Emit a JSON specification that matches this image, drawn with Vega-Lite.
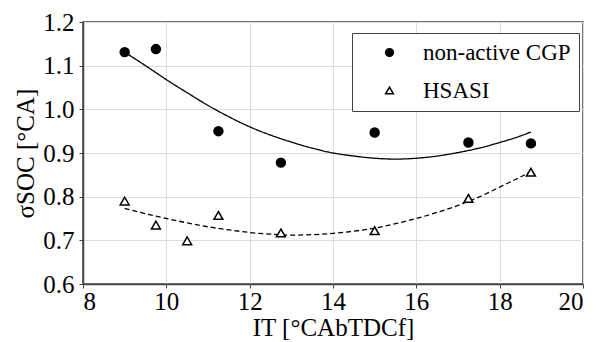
{
  "$schema": "https://vega.github.io/schema/vega-lite/v6.json",
  "autosize": "none",
  "width": 500,
  "height": 262,
  "padding": {"left": 83, "top": 22, "right": 14, "bottom": 58},
  "background": "white",
  "config": {
    "view": {"stroke": "#444", "strokeWidth": 1.5},
    "font": "Liberation Serif",
    "axis": {"labelFont": "Liberation Serif", "titleFont": "Liberation Serif", "labelFontSize": 25, "titleFontSize": 25, "titleFontWeight": "normal"},
    "legend": {"labelFont": "Liberation Serif", "labelFontSize": 23}
  },
  "datasets": {
    "pts": [
      {"it": 9.0, "sigma": 1.131, "series": "non-active CGP"},
      {"it": 9.75, "sigma": 1.138, "series": "non-active CGP"},
      {"it": 11.25, "sigma": 0.950, "series": "non-active CGP"},
      {"it": 12.75, "sigma": 0.878, "series": "non-active CGP"},
      {"it": 15.0, "sigma": 0.947, "series": "non-active CGP"},
      {"it": 17.25, "sigma": 0.924, "series": "non-active CGP"},
      {"it": 18.75, "sigma": 0.922, "series": "non-active CGP"},
      {"it": 9.0, "sigma": 0.790, "series": "HSASI"},
      {"it": 9.75, "sigma": 0.735, "series": "HSASI"},
      {"it": 10.5, "sigma": 0.699, "series": "HSASI"},
      {"it": 11.25, "sigma": 0.757, "series": "HSASI"},
      {"it": 12.75, "sigma": 0.717, "series": "HSASI"},
      {"it": 15.0, "sigma": 0.722, "series": "HSASI"},
      {"it": 17.25, "sigma": 0.796, "series": "HSASI"},
      {"it": 18.75, "sigma": 0.856, "series": "HSASI"}
    ],
    "fits": [
      {"it": 9.0, "sigma": 1.131, "fit": "CGP"},
      {"it": 9.5, "sigma": 1.100, "fit": "CGP"},
      {"it": 10.0, "sigma": 1.068, "fit": "CGP"},
      {"it": 10.5, "sigma": 1.038, "fit": "CGP"},
      {"it": 11.0, "sigma": 1.009, "fit": "CGP"},
      {"it": 11.5, "sigma": 0.983, "fit": "CGP"},
      {"it": 12.0, "sigma": 0.960, "fit": "CGP"},
      {"it": 12.5, "sigma": 0.941, "fit": "CGP"},
      {"it": 13.0, "sigma": 0.925, "fit": "CGP"},
      {"it": 13.5, "sigma": 0.911, "fit": "CGP"},
      {"it": 14.0, "sigma": 0.900, "fit": "CGP"},
      {"it": 14.5, "sigma": 0.893, "fit": "CGP"},
      {"it": 15.0, "sigma": 0.888, "fit": "CGP"},
      {"it": 15.5, "sigma": 0.886, "fit": "CGP"},
      {"it": 16.0, "sigma": 0.888, "fit": "CGP"},
      {"it": 16.5, "sigma": 0.893, "fit": "CGP"},
      {"it": 17.0, "sigma": 0.901, "fit": "CGP"},
      {"it": 17.5, "sigma": 0.911, "fit": "CGP"},
      {"it": 18.0, "sigma": 0.924, "fit": "CGP"},
      {"it": 18.5, "sigma": 0.939, "fit": "CGP"},
      {"it": 18.75, "sigma": 0.948, "fit": "CGP"},
      {"it": 9.0, "sigma": 0.773, "fit": "HSASI"},
      {"it": 9.5, "sigma": 0.761, "fit": "HSASI"},
      {"it": 10.0, "sigma": 0.750, "fit": "HSASI"},
      {"it": 10.5, "sigma": 0.740, "fit": "HSASI"},
      {"it": 11.0, "sigma": 0.731, "fit": "HSASI"},
      {"it": 11.5, "sigma": 0.724, "fit": "HSASI"},
      {"it": 12.0, "sigma": 0.718, "fit": "HSASI"},
      {"it": 12.5, "sigma": 0.714, "fit": "HSASI"},
      {"it": 13.0, "sigma": 0.712, "fit": "HSASI"},
      {"it": 13.5, "sigma": 0.713, "fit": "HSASI"},
      {"it": 14.0, "sigma": 0.716, "fit": "HSASI"},
      {"it": 14.5, "sigma": 0.721, "fit": "HSASI"},
      {"it": 15.0, "sigma": 0.728, "fit": "HSASI"},
      {"it": 15.5, "sigma": 0.738, "fit": "HSASI"},
      {"it": 16.0, "sigma": 0.750, "fit": "HSASI"},
      {"it": 16.5, "sigma": 0.764, "fit": "HSASI"},
      {"it": 17.0, "sigma": 0.780, "fit": "HSASI"},
      {"it": 17.5, "sigma": 0.799, "fit": "HSASI"},
      {"it": 18.0, "sigma": 0.822, "fit": "HSASI"},
      {"it": 18.5, "sigma": 0.845, "fit": "HSASI"},
      {"it": 18.75, "sigma": 0.857, "fit": "HSASI"}
    ]
  },
  "layer": [
    {
      "data": {"name": "fits"},
      "mark": {"type": "line", "color": "black", "strokeWidth": 1.3, "interpolate": "monotone"},
      "encoding": {
        "x": {
          "field": "it", "type": "quantitative",
          "scale": {"domain": [8, 20], "nice": false, "zero": false},
          "axis": {
            "title": "IT [°CAbTDCf]", "values": [8, 10, 12, 14, 16, 18, 20],
            "labelFont": "Liberation Serif", "labelFontSize": 25, "labelColor": "black", "labelPadding": 1,
            "titleFont": "Liberation Serif", "titleFontSize": 25, "titleFontWeight": "normal", "titleColor": "black", "titlePadding": 1,
            "domainColor": "#444", "domainWidth": 1.5, "tickColor": "#444", "tickSize": 4,
            "gridColor": "#dcdcdc", "gridWidth": 1
          }
        },
        "y": {
          "field": "sigma", "type": "quantitative",
          "scale": {"domain": [0.6, 1.2], "nice": false, "zero": false},
          "axis": {
            "title": "σSOC [°CA]", "values": [0.6, 0.7, 0.8, 0.9, 1.0, 1.1, 1.2], "format": ".1f",
            "labelFont": "Liberation Serif", "labelFontSize": 25, "labelColor": "black", "labelPadding": 5,
            "titleFont": "Liberation Serif", "titleFontSize": 25, "titleFontWeight": "normal", "titleColor": "black", "titlePadding": 4,
            "domainColor": "#444", "domainWidth": 1.5, "tickColor": "#444", "tickSize": 4,
            "gridColor": "#dcdcdc", "gridWidth": 1
          }
        },
        "detail": {"field": "fit"},
        "strokeDash": {
          "field": "fit", "type": "nominal",
          "scale": {"domain": ["CGP", "HSASI"], "range": [[1, 0], [5, 3]]},
          "legend": null
        }
      }
    },
    {
      "data": {"name": "pts"},
      "mark": {"type": "point", "filled": false, "stroke": "black", "strokeWidth": 1.5, "size": 80, "opacity": 1},
      "encoding": {
        "x": {"field": "it", "type": "quantitative"},
        "y": {"field": "sigma", "type": "quantitative"},
        "shape": {
          "field": "series", "type": "nominal",
          "scale": {"domain": ["non-active CGP", "HSASI"], "range": ["circle", "triangle-up"]},
          "legend": {
            "title": null,
            "orient": "none",
            "legendX": 269,
            "legendY": 11,
            "labelFont": "Liberation Serif",
            "labelFontSize": 23,
            "labelColor": "black",
            "symbolSize": 60,
            "padding": 8,
            "symbolOffset": 18,
            "labelOffset": 22,
            "rowPadding": 14,
            "strokeColor": "#444",
            "fillColor": "white",
            "symbolStrokeWidth": 1.5
          }
        },
        "fill": {
          "field": "series", "type": "nominal",
          "scale": {"domain": ["non-active CGP", "HSASI"], "range": ["black", "white"]},
          "legend": {
            "title": null,
            "orient": "none",
            "legendX": 269,
            "legendY": 11,
            "labelFont": "Liberation Serif",
            "labelFontSize": 23,
            "labelColor": "black",
            "symbolSize": 60,
            "padding": 8,
            "symbolOffset": 18,
            "labelOffset": 22,
            "rowPadding": 14,
            "strokeColor": "#444",
            "fillColor": "white",
            "symbolStrokeWidth": 1.5
          }
        }
      }
    }
  ]
}
